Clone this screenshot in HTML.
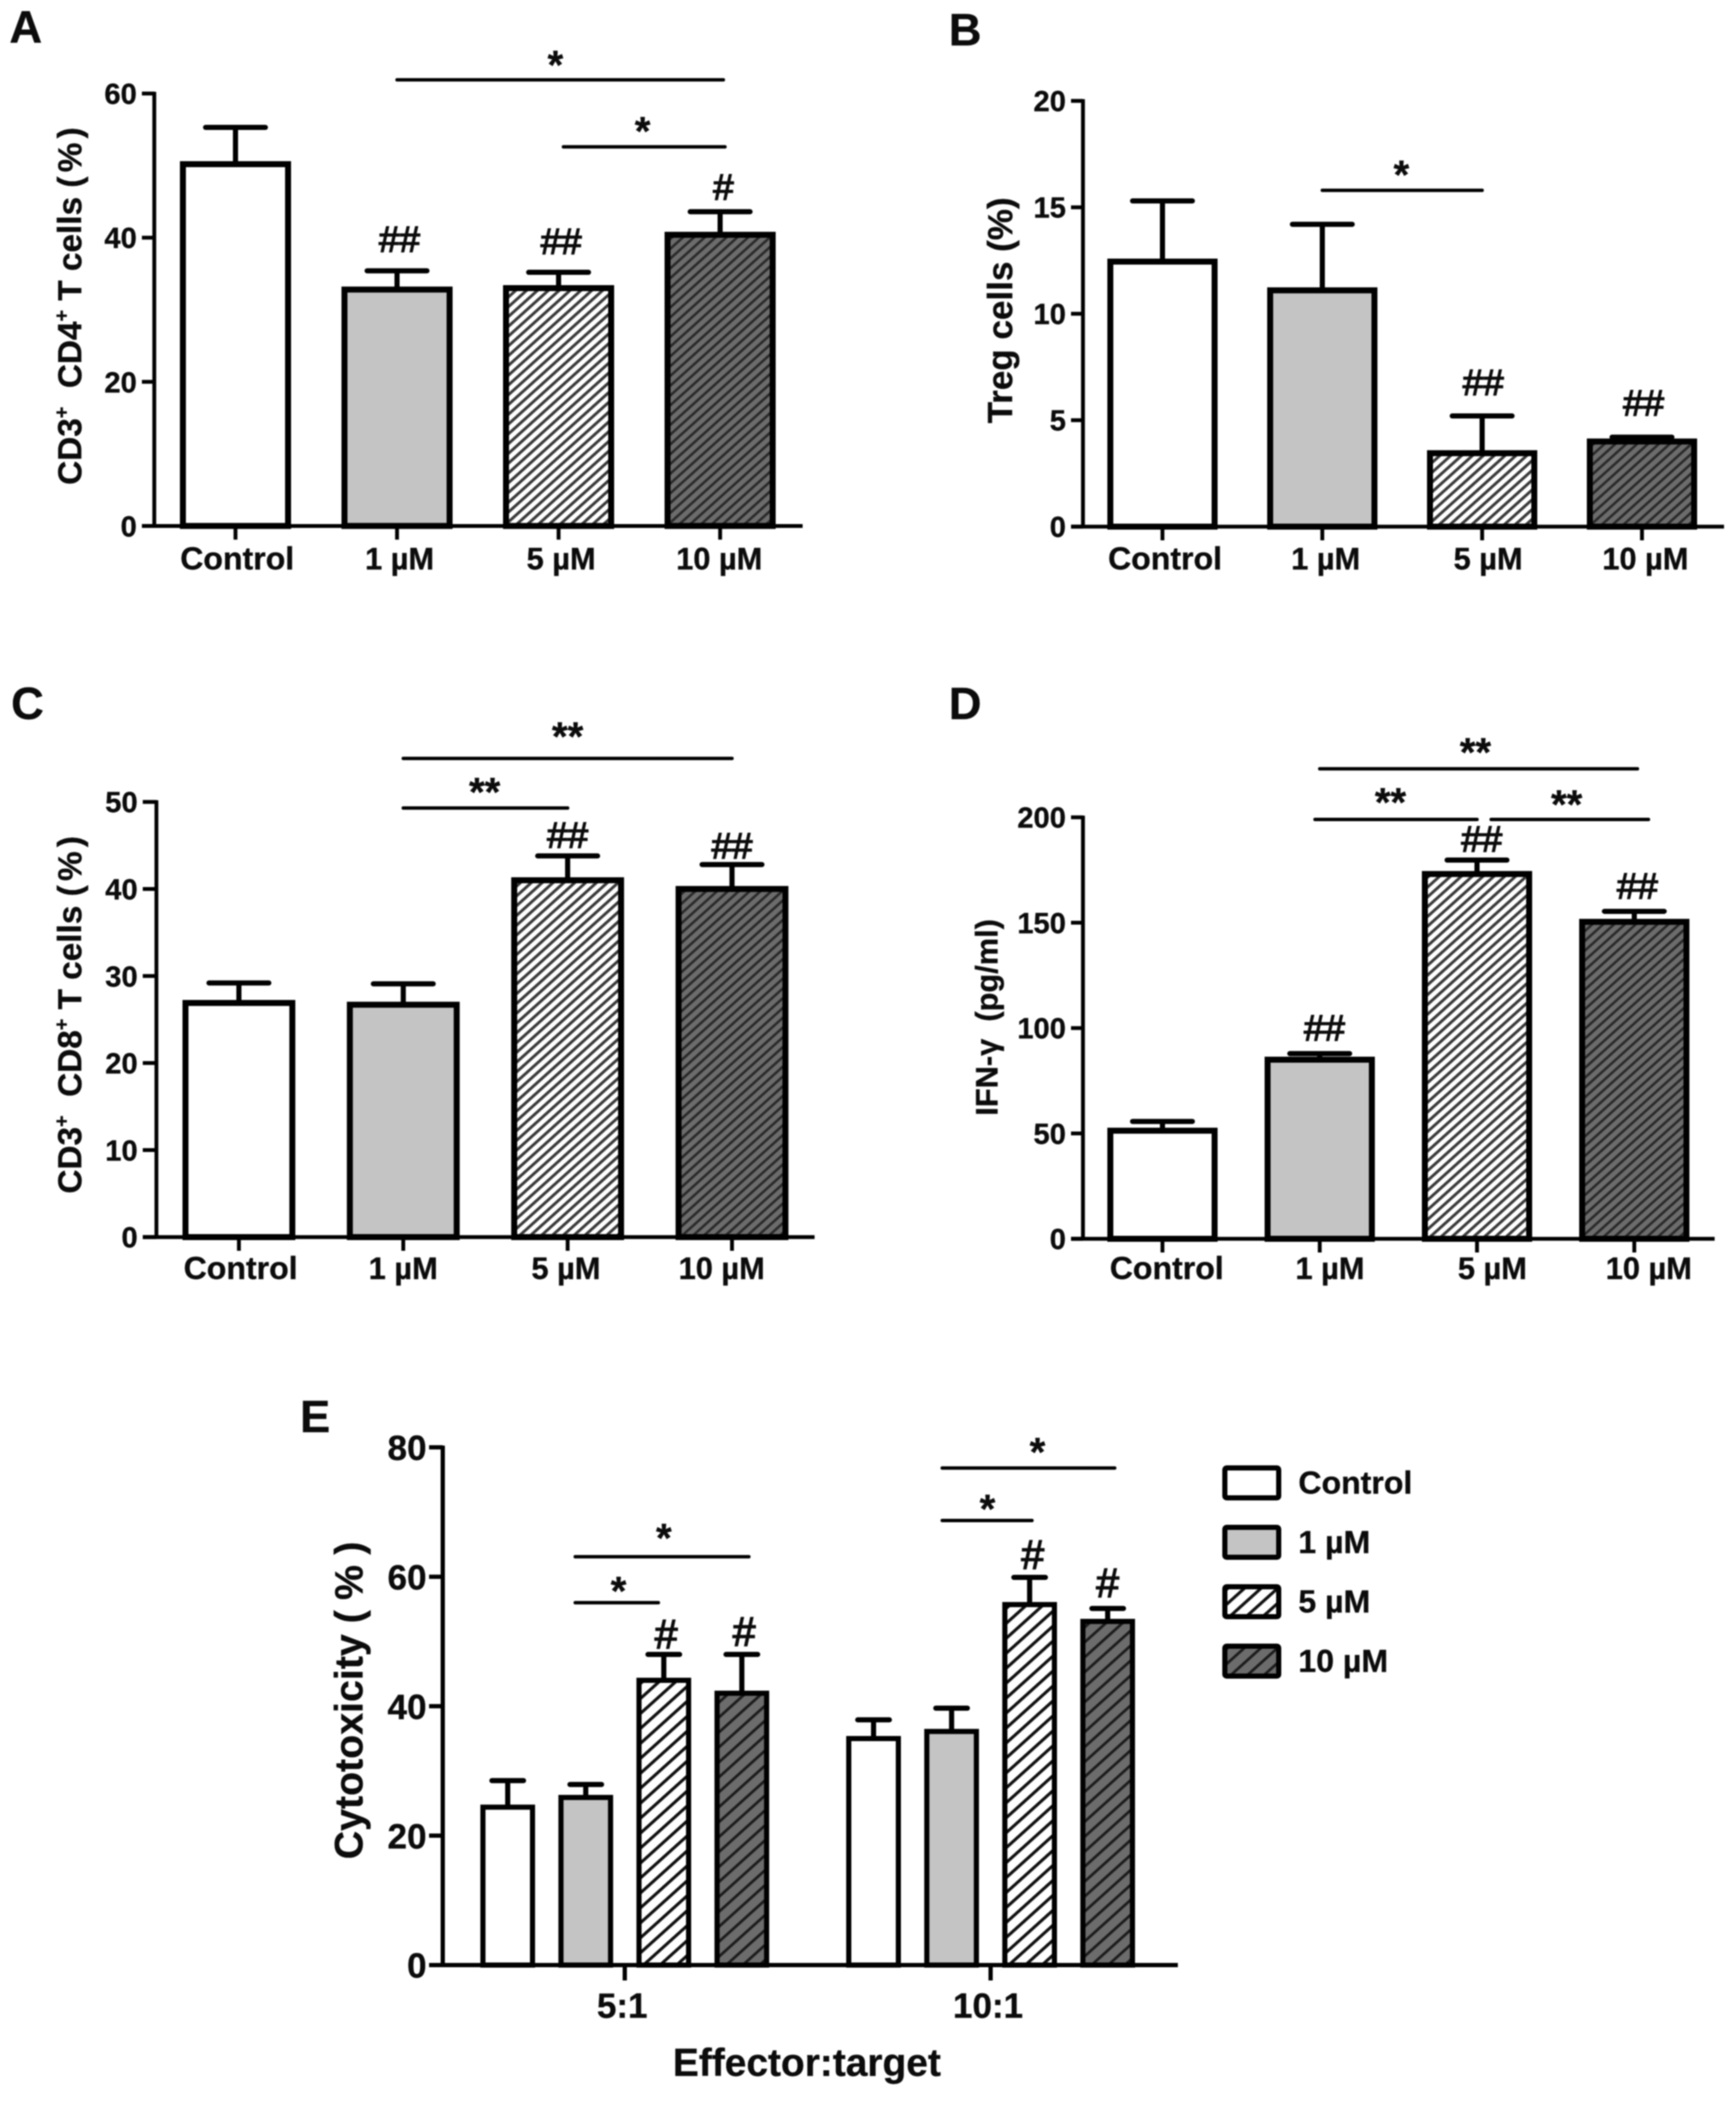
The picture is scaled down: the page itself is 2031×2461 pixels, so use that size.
<!DOCTYPE html>
<html lang="en">
<head>
<meta charset="utf-8">
<title>Effects on T cell subsets and cytotoxicity</title>
<style>
html,body{margin:0;padding:0;background:#fff;}
svg{display:block;filter:blur(0.7px);}
text{font-family:"Liberation Sans",Arial,sans-serif;fill:#0c0c0c;stroke:#0c0c0c;stroke-width:0.4px;white-space:pre;}
</style>
</head>
<body>
<svg id="figure" xmlns="http://www.w3.org/2000/svg" width="2031" height="2461" viewBox="0 0 2031 2461">
<defs>
<pattern id="hatchLight" patternUnits="userSpaceOnUse" width="8.5" height="8.5" patternTransform="rotate(-42)"><rect width="8.5" height="8.5" fill="#fff"/><rect y="0" width="8.5" height="3.4" fill="#3a3a3a"/></pattern>
<pattern id="hatchDark" patternUnits="userSpaceOnUse" width="8.5" height="8.5" patternTransform="rotate(-42)"><rect width="8.5" height="8.5" fill="#6c6c6c"/><rect y="0" width="8.5" height="3" fill="#2a2a2a"/></pattern>
<pattern id="hatchLightWide" patternUnits="userSpaceOnUse" width="13" height="13" patternTransform="rotate(-42)"><rect width="13" height="13" fill="#fff"/><rect y="0" width="13" height="3.6" fill="#111"/></pattern>
<pattern id="hatchDarkWide" patternUnits="userSpaceOnUse" width="13" height="13" patternTransform="rotate(-42)"><rect width="13" height="13" fill="#6c6c6c"/><rect y="0" width="13" height="3.2" fill="#1c1c1c"/></pattern>
</defs>
<rect width="2031" height="2461" fill="#fff"/>
</svg>
<script>
const categories = ['Control', '1 µM', '5 µM', '10 µM'];
const groups = ['5:1', '10:1'];

const panelATicks = [0, 20, 40, 60];
const panelAValues = [50.2, 32.8, 33.0, 40.4];
const panelAErrors = [5.1, 2.6, 2.2, 3.2];

const panelBTicks = [0, 5, 10, 15, 20];
const panelBValues = [12.45, 11.1, 3.45, 4.0];
const panelBErrors = [2.85, 3.1, 1.75, 0.2];

const panelCTicks = [0, 10, 20, 30, 40, 50];
const panelCValues = [26.9, 26.7, 41.0, 40.0];
const panelCErrors = [2.3, 2.4, 2.8, 2.8];

const panelDTicks = [0, 50, 100, 150, 200];
const panelDValues = [51.3, 85.0, 173.1, 150.4];
const panelDErrors = [4.4, 2.9, 6.6, 5.0];

const panelETicks = [0, 20, 40, 60, 80];
const panelEValuesByGroup = [[24.4, 25.9, 44.0, 42.0], [35.0, 36.1, 55.7, 53.1]];
const panelEErrorsByGroup = [[4.1, 2.0, 4.0, 6.0], [2.9, 3.6, 4.2, 2.0]];

const seriesFills = ['#ffffff', '#c4c4c4', 'url(#hatchLight)', 'url(#hatchDark)'];
const seriesFillsWide = ['#ffffff', '#c4c4c4', 'url(#hatchLightWide)', 'url(#hatchDarkWide)'];

const svg = document.getElementById('figure');
const NS = 'http://www.w3.org/2000/svg';

function make(parent, tag, attrs, content) {
  const node = document.createElementNS(NS, tag);
  for (const k in attrs) node.setAttribute(k, attrs[k]);
  if (content !== undefined) node.innerHTML = content;
  parent.appendChild(node);
  return node;
}

function drawAxes(g, p, ticks) {
  const y = v => p.y0 - v * p.k;
  const axisY = make(g, 'line', {x1: p.axisX, x2: p.axisX, y1: y(ticks[ticks.length - 1]) - 2, y2: p.y0, stroke: '#000', 'stroke-width': p.axisW});
  
  
  const axisX = make(g, 'line', {x1: p.tickLeft, x2: p.axisEnd, y1: p.y0, y2: p.y0, stroke: '#000', 'stroke-width': p.axisW});
  
  
  ticks.forEach(t => {
    const tick = make(g, 'line', {x1: p.tickLeft, x2: p.axisX, y1: y(t), y2: y(t), stroke: '#000', 'stroke-width': p.axisW});
    
    
    const label = make(g, 'text', {x: p.tickLabelX, y: y(t) + p.tickFont * 0.358, 'text-anchor': 'end', 'font-size': p.tickFont, 'font-weight': 'bold'}, String(t));
    
    
  });
}

function drawBar(g, p, cx, value, err, fill, w, capW) {
  const y = v => p.y0 - v * p.k;
  const stem = make(g, 'line', {x1: cx, x2: cx, y1: y(value), y2: y(value + err), stroke: '#000', 'stroke-width': p.errW});
  
  
  const cap = make(g, 'line', {x1: cx - capW / 2, x2: cx + capW / 2, y1: y(value + err), y2: y(value + err), stroke: '#000', 'stroke-width': p.errW, 'stroke-linecap': 'round'});
  
  
  const bar = make(g, 'rect', {x: cx - w / 2, y: y(value), width: w, height: y(0) - y(value), fill: fill, stroke: '#000', 'stroke-width': p.barW});
  
  
}

function drawTitle(g, p) {
  const letter = make(g, 'text', {x: p.letterX, y: p.letterY, 'font-size': 53, 'font-weight': 'bold'}, p.letter);
  
  
  const title = make(g, 'text', {transform: 'translate(' + p.titleX + ',' + p.titleY + ') rotate(-90)', 'text-anchor': 'middle', 'font-size': p.titleFont, 'font-weight': 'bold'}, p.title);
  
  
}

function drawAnnotations(g, p, xOf) {
  const y = v => p.y0 - v * p.k;
  p.brackets.forEach(b => {
    const line = make(g, 'line', {x1: xOf(b.from), x2: xOf(b.to), y1: y(b.level), y2: y(b.level), stroke: '#000', 'stroke-width': 4, 'stroke-linecap': 'round'});
    
    
  });
  p.stars.forEach(s => {
    const star = make(g, 'text', {x: xOf(s.at), y: y(s.level) + 23, 'text-anchor': 'middle', 'font-size': 47, 'font-weight': 'bold'}, s.text);
    
    
  });
  p.hashes.forEach(h => {
    const hash = make(g, 'text', {x: xOf(h.at), y: y(h.level) + p.hashFont * 0.358 - 2.5, 'text-anchor': 'middle', 'font-size': p.hashFont, style: 'stroke-width:1.5px'}, h.text);
    
    
  });
}

function drawCategoryPanel(p, ticks, values, errors) {
  const g = make(svg, 'g', {});
  
  
  const xOf = i => p.x0 + i * p.step;
  drawTitle(g, p);
  values.forEach((v, i) => drawBar(g, p, xOf(i), v, errors[i], seriesFills[i], p.width, 70));
  drawAxes(g, p, ticks);
  categories.forEach((c, i) => {
    const tick = make(g, 'line', {x1: xOf(i), x2: xOf(i), y1: p.y0, y2: p.y0 + 16, stroke: '#000', 'stroke-width': p.axisW});
    
    
    const label = make(g, 'text', {x: xOf(i) + p.labelShift[i], y: p.labelY, 'text-anchor': 'middle', 'font-size': i === 0 ? 37.5 : 36, 'font-weight': 'bold'}, c);
    
    
  });
  drawAnnotations(g, p, xOf);
}

const sup = '<tspan dy="-15" font-size="23">+</tspan>';
const unsup = 'dy="15"';
const percent = '(<tspan dx="5">%</tspan><tspan dx="5">)</tspan>';

drawCategoryPanel({
  name: 'panel-a', letter: 'A', letterX: 11, letterY: 50,
  title: 'CD3' + sup + '<tspan ' + unsup + '>  CD4</tspan>' + sup + '<tspan ' + unsup + '> T cells ' + percent + '</tspan>',
  titleX: 95, titleY: 358, titleFont: 39,
  x0: 275.5, step: 189, width: 123, barW: 7, errW: 6, axisW: 4.5,
  axisX: 180.5, axisEnd: 939, tickLeft: 166, tickLabelX: 160, tickFont: 34,
  y0: 615.2, k: 8.43, labelY: 666, labelShift: [2, 3, 3, -1], hashFont: 43,
  brackets: [{from: 1.0, to: 3.02, level: 61.9}, {from: 2.03, to: 3.03, level: 52.6}],
  stars: [{at: 1.98, level: 64.8, text: '*'}, {at: 2.52, level: 55.6, text: '*'}],
  hashes: [{at: 1.015, level: 39.6, text: '##'}, {at: 2.016, level: 39.3, text: '##'}, {at: 3.02, level: 46.8, text: '#'}]
}, panelATicks, panelAValues, panelAErrors);

drawCategoryPanel({
  name: 'panel-b', letter: 'B', letterX: 1110, letterY: 53,
  title: 'Treg cells (%)',
  titleX: 1184, titleY: 363, titleFont: 41,
  x0: 1360, step: 187, width: 122, barW: 7, errW: 6, axisW: 4.5,
  axisX: 1267, axisEnd: 2017, tickLeft: 1253, tickLabelX: 1247, tickFont: 34,
  y0: 616, k: 24.9, labelY: 666, labelShift: [3, 4, 7, 4], hashFont: 43,
  brackets: [{from: 1.0, to: 2.0, level: 15.8}],
  stars: [{at: 1.495, level: 16.8, text: '*'}],
  hashes: [{at: 2.007, level: 6.7, text: '##'}, {at: 3.01, level: 5.74, text: '##'}]
}, panelBTicks, panelBValues, panelBErrors);

drawCategoryPanel({
  name: 'panel-c', letter: 'C', letterX: 13, letterY: 841,
  title: 'CD3' + sup + '<tspan ' + unsup + '>  CD8</tspan>' + sup + '<tspan ' + unsup + '> T cells ' + percent + '</tspan>',
  titleX: 95, titleY: 1187, titleFont: 39,
  x0: 279.5, step: 192.3, width: 125, barW: 7, errW: 6, axisW: 4.5,
  axisX: 183, axisEnd: 953, tickLeft: 167, tickLabelX: 161, tickFont: 34,
  y0: 1447, k: 10.18, labelY: 1496, labelShift: [2, 0, -2, -12], hashFont: 43,
  brackets: [{from: 1.0, to: 3.0, level: 55.0}, {from: 1.0, to: 2.0, level: 49.3}],
  stars: [{at: 2.0, level: 58.2, text: '**'}, {at: 1.495, level: 51.8, text: '**'}],
  hashes: [{at: 2.0, level: 46, text: '##'}, {at: 3.0, level: 44.8, text: '##'}]
}, panelCTicks, panelCValues, panelCErrors);

drawCategoryPanel({
  name: 'panel-d', letter: 'D', letterX: 1110, letterY: 841,
  title: 'IFN-γ  (pg/ml)',
  titleX: 1167, titleY: 1190, titleFont: 36,
  x0: 1360, step: 184, width: 122, barW: 7, errW: 6, axisW: 4.5,
  axisX: 1267, axisEnd: 2006, tickLeft: 1253, tickLabelX: 1247, tickFont: 34,
  y0: 1449, k: 2.465, labelY: 1496, labelShift: [5, 12, 18, 17], hashFont: 43,
  brackets: [{from: 1.0, to: 3.02, level: 223}, {from: 0.97, to: 2.0, level: 199}, {from: 2.09, to: 3.09, level: 199}],
  stars: [{at: 1.99, level: 233.7, text: '**'}, {at: 1.45, level: 210, text: '**'}, {at: 2.57, level: 209, text: '**'}],
  hashes: [{at: 2.03, level: 189, text: '##'}, {at: 3.02, level: 166.7, text: '##'}, {at: 1.03, level: 99.4, text: '##'}]
}, panelDTicks, panelDValues, panelDErrors);

(function drawPanelE() {
  const p = {
    letter: 'E', letterX: 351, letterY: 1675,
    title: 'Cytotoxicity ' + percent.replace(/dx="5"/g, 'dx="12"'),
    titleX: 424, titleY: 1989, titleFont: 46,
    x0: 594, barStep: 91.3, groupStep: 428, width: 58, barW: 6, errW: 6, axisW: 5,
    axisX: 518, axisEnd: 1378, tickLeft: 502, tickLabelX: 499, tickFont: 41,
    y0: 2298.5, k: 7.57, hashFont: 48,
    brackets: [{from: 0.865, to: 3.09, level: 63.1}, {from: 0.865, to: 1.93, level: 56}, {from: 5.57, to: 7.78, level: 76.8}, {from: 5.57, to: 6.72, level: 68.7}],
    stars: [{at: 2.0, level: 66.9, text: '*'}, {at: 1.42, level: 58.7, text: '*'}, {at: 6.79, level: 80.2, text: '*'}, {at: 6.15, level: 71.4, text: '*'}],
    hashes: [{at: 2.03, level: 50.9, text: '#'}, {at: 3.03, level: 51.3, text: '#'}, {at: 6.73, level: 63.2, text: '#'}, {at: 7.69, level: 58.8, text: '#'}]
  };
  const g = make(svg, 'g', {});
  
  
  const barX = (gi, si) => p.x0 + gi * p.groupStep + si * p.barStep;
  const groupSpan = p.groupStep / p.barStep;
  const xOf = u => p.x0 + u * p.barStep;
  p.brackets.forEach(b => { if (b.from > 4) { b.from = b.from - 4.69 + groupSpan; b.to = b.to - 4.69 + groupSpan; } });
  p.stars.forEach(s => { if (s.at > 4) s.at = s.at - 4.69 + groupSpan; });
  p.hashes.forEach(h => { if (h.at > 4) h.at = h.at - 4.69 + groupSpan; });
  drawTitle(g, p);
  panelEValuesByGroup.forEach((vals, gi) => {
    vals.forEach((v, si) => drawBar(g, p, barX(gi, si), v, panelEErrorsByGroup[gi][si], seriesFillsWide[si], p.width, 37));
  });
  drawAxes(g, p, panelETicks);
  groups.forEach((name, gi) => {
    const cx = barX(gi, 1.5);
    const tick = make(g, 'line', {x1: cx, x2: cx, y1: p.y0, y2: p.y0 + 18, stroke: '#000', 'stroke-width': p.axisW});
    
    
    const label = make(g, 'text', {x: cx - 3, y: 2360, 'text-anchor': 'middle', 'font-size': 41, 'font-weight': 'bold'}, name);
    
    
  });
  const xTitle = make(g, 'text', {x: 944, y: 2428, 'text-anchor': 'middle', 'font-size': 45.5, 'font-weight': 'bold'}, 'Effector:target');
  
  
  drawAnnotations(g, p, xOf);

  const legend = make(svg, 'g', {});
  
  
  categories.forEach((c, i) => {
    const top = 1717 + i * 69.5;
    const swatch = make(legend, 'rect', {x: 1433, y: top, width: 63, height: 35, rx: 2, fill: seriesFillsWide[i], stroke: '#000', 'stroke-width': 6});
    
    
    const text = make(legend, 'text', {x: 1519, y: top + 30, 'font-size': 37.5, 'font-weight': 'bold'}, c);
    
    
  });
})();
</script>
</body>
</html>
